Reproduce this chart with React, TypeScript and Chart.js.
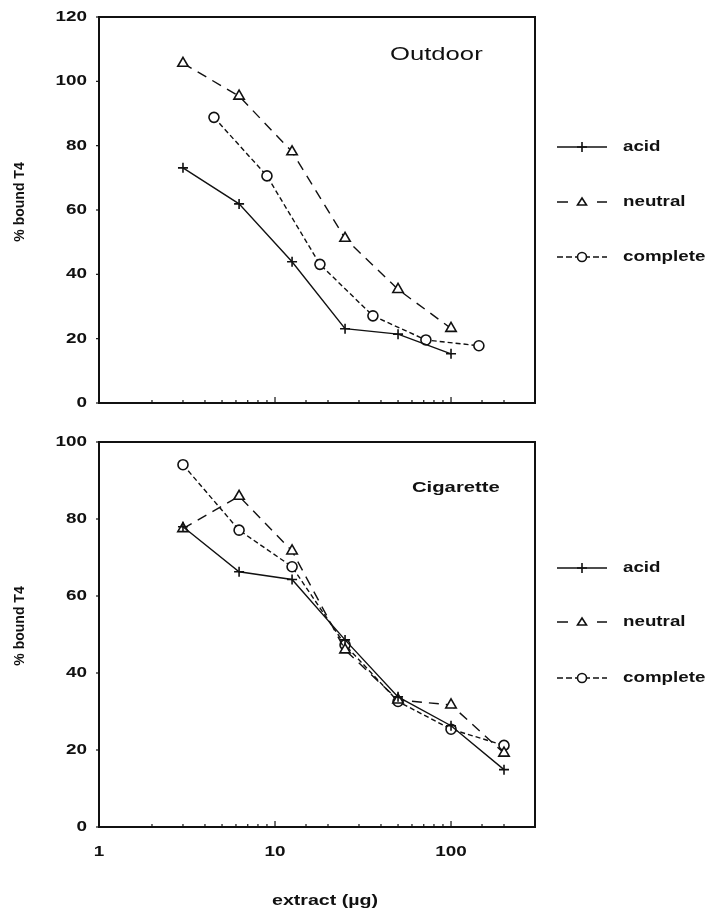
import React, { useEffect, useRef } from 'react';
import { Chart, registerables } from 'chart.js';

Chart.register(...registerables);

// Outdoor extract
const OUTDOOR_ACID_X = [3, 6.25, 12.5, 25, 50, 100];
const OUTDOOR_ACID_Y = [73.1, 61.9, 43.9, 23.1, 21.4, 15.3];
const OUTDOOR_NEUTRAL_X = [3, 6.25, 12.5, 25, 50, 100];
const OUTDOOR_NEUTRAL_Y = [105.6, 95.4, 78.1, 51.2, 35.3, 23.2];
const OUTDOOR_COMPLETE_X = [4.5, 9, 18, 36, 72, 144];
const OUTDOOR_COMPLETE_Y = [88.8, 70.6, 43.1, 27.1, 19.6, 17.8];

// Cigarette extract
const CIG_X = [3, 6.25, 12.5, 25, 50, 100, 200];
const CIG_ACID_Y = [78, 66.3, 64.3, 48.6, 33.8, 26.3, 14.9];
const CIG_NEUTRAL_Y = [77.5, 85.9, 71.7, 46, 33, 31.7, 19.2];
const CIG_COMPLETE_Y = [94.1, 77.1, 67.6, 47.3, 32.6, 25.4, 21.2];

const SERIES_NAMES = ['acid', 'neutral', 'complete'];
const PANEL_TITLES = ['Outdoor', 'Cigarette'];
const X_MIN = 1;
const X_MAX = 300;
const X_TICK_LABELS = ['1', '10', '100'];
const OUTDOOR_Y_MAX = 120;
const CIG_Y_MAX = 100;
const Y_STEP = 20;
const Y_TITLE = '% bound T4';
const X_TITLE = 'extract (\u00b5g)';

const INK = '#111';
const FONT = '"Liberation Sans", Arial, Helvetica, sans-serif';

type TextOpts = { size: number; weight?: string; align?: CanvasTextAlign; sx?: number; rotate?: boolean };

// Text in this figure is set wide, so it is drawn with a horizontal stretch.
function drawText(ctx: CanvasRenderingContext2D, text: string, x: number, y: number, o: TextOpts) {
  ctx.save();
  ctx.translate(x, y);
  if (o.rotate) {
    ctx.rotate(-Math.PI / 2);
    ctx.scale(1, o.sx ?? 1);
  } else {
    ctx.scale(o.sx ?? 1, 1);
  }
  ctx.font = `${o.weight ?? 'bold'} ${o.size}px ${FONT}`;
  ctx.fillStyle = INK;
  ctx.textAlign = o.align ?? 'left';
  ctx.textBaseline = 'middle';
  ctx.fillText(text, 0, 0);
  ctx.restore();
}

const STYLES = [
  { dash: [] as number[], point: 'cross', radius: 5, width: 1.4 },
  { dash: [10, 7], point: 'triangle', radius: 6, width: 1.4 },
  { dash: [5, 3], point: 'circle', radius: 5, width: 1.4 },
];

function makeDataset(i: number, xs: number[], ys: number[]) {
  const s = STYLES[i];
  return {
    label: SERIES_NAMES[i],
    data: xs.map((x, k) => ({ x, y: ys[k] })),
    borderColor: INK,
    borderWidth: s.width,
    borderDash: s.dash,
    tension: 0,
    fill: false,
    pointStyle: s.point,
    pointRadius: s.radius,
    pointBorderColor: INK,
    pointBackgroundColor: '#fff',
    pointBorderWidth: 1.6,
  };
}

function drawLegendMarker(ctx: CanvasRenderingContext2D, i: number, x: number, y: number) {
  ctx.save();
  ctx.strokeStyle = INK;
  ctx.fillStyle = '#fff';
  ctx.lineWidth = 1.6;
  ctx.setLineDash([]);
  ctx.beginPath();
  if (i === 0) {
    ctx.moveTo(x - 5, y); ctx.lineTo(x + 5, y);
    ctx.moveTo(x, y - 5); ctx.lineTo(x, y + 5);
    ctx.stroke();
  } else if (i === 1) {
    ctx.moveTo(x, y - 4); ctx.lineTo(x + 4.5, y + 3); ctx.lineTo(x - 4.5, y + 3); ctx.closePath();
    ctx.fill(); ctx.stroke();
  } else {
    ctx.arc(x, y, 4.5, 0, Math.PI * 2);
    ctx.fill(); ctx.stroke();
  }
  ctx.restore();
}

type PanelOpts = {
  title: string;
  titleX: number;
  titleY: number;
  titleSize: number;
  titleWeight: string;
  legendY: number[];
  yTitleY: number;
  showX: boolean;
};

function panelPlugin(p: PanelOpts) {
  return {
    id: 'panelDecor',
    afterDraw(chart: any) {
      const ctx: CanvasRenderingContext2D = chart.ctx;
      const a = chart.chartArea;
      const xs = chart.scales.x;
      const ys = chart.scales.y;
      ctx.save();
      // frame
      ctx.strokeStyle = INK;
      ctx.lineWidth = 2;
      ctx.strokeRect(a.left, a.top, a.right - a.left, a.bottom - a.top);
      // x ticks, drawn inward
      ctx.lineWidth = 1.2;
      for (const t of xs.ticks) {
        const v = t.value;
        if (v < X_MIN || v > X_MAX) continue;
        const px = xs.getPixelForValue(v);
        const major = Math.abs(Math.log10(v) - Math.round(Math.log10(v))) < 1e-9;
        const len = major ? 6 : 3;
        ctx.beginPath();
        ctx.moveTo(px, a.bottom);
        ctx.lineTo(px, a.bottom - len);
        ctx.stroke();
      }
      // y ticks and labels
      for (const t of ys.ticks) {
        const py = ys.getPixelForValue(t.value);
        ctx.beginPath();
        ctx.moveTo(a.left - 3, py);
        ctx.lineTo(a.left, py);
        ctx.stroke();
        drawText(ctx, String(t.value), a.left - 12, py, { size: 14, align: 'right', sx: 1.35 });
      }
      if (p.showX) {
        for (const lbl of X_TICK_LABELS) {
          const px = xs.getPixelForValue(Number(lbl));
          drawText(ctx, lbl, px, a.bottom + 25, { size: 14, align: 'center', sx: 1.35 });
        }
        drawText(ctx, X_TITLE, 325, a.bottom + 74, { size: 14, align: 'center', sx: 1.4 });
      }
      // y title
      drawText(ctx, Y_TITLE, 20, p.yTitleY, { size: 14, align: 'center', sx: 1.05, rotate: true });
      // panel title
      drawText(ctx, p.title, p.titleX, p.titleY, { size: p.titleSize, weight: p.titleWeight, align: 'left', sx: 1.35 });
      // legend
      for (let i = 0; i < SERIES_NAMES.length; i++) {
        const y = p.legendY[i];
        ctx.save();
        ctx.strokeStyle = INK;
        ctx.lineWidth = 1.4;
        if (i === 0) {
          ctx.beginPath(); ctx.moveTo(557, y); ctx.lineTo(607, y); ctx.stroke();
        } else if (i === 1) {
          ctx.beginPath();
          ctx.moveTo(557, y); ctx.lineTo(568, y);
          ctx.moveTo(597, y); ctx.lineTo(607, y);
          ctx.stroke();
        } else {
          ctx.setLineDash([6, 3]);
          ctx.beginPath(); ctx.moveTo(557, y); ctx.lineTo(607, y); ctx.stroke();
        }
        ctx.restore();
        drawLegendMarker(ctx, i, 582, y);
        drawText(ctx, SERIES_NAMES[i], 623, y, { size: 15, align: 'left', sx: 1.25 });
      }
      ctx.restore();
    },
  };
}

function makeConfig(datasets: any[], yMax: number, padTop: number, xHeight: number, p: PanelOpts) {
  return {
    type: 'line',
    data: { datasets },
    options: {
      responsive: false,
      animation: false,
      events: [],
      layout: { padding: { top: padTop, right: 171, left: 0, bottom: 0 } },
      plugins: { legend: { display: false }, tooltip: { enabled: false }, title: { display: false } },
      scales: {
        x: {
          type: 'logarithmic',
          min: X_MIN,
          max: X_MAX,
          grid: { display: false },
          border: { display: false },
          ticks: { display: false, autoSkip: false },
          afterFit: (s: any) => { s.height = xHeight; },
        },
        y: {
          type: 'linear',
          min: 0,
          max: yMax,
          grid: { display: false },
          border: { display: false },
          ticks: { display: false, stepSize: Y_STEP },
          afterFit: (s: any) => { s.width = 99; },
        },
      },
    },
    plugins: [panelPlugin(p)],
  };
}

function Panel(props: { config: any; width: number; height: number; top: number }) {
  const ref = useRef<HTMLCanvasElement>(null);
  useEffect(() => {
    const chart = new Chart(ref.current as HTMLCanvasElement, props.config);
    return () => chart.destroy();
  }, []);
  return (
    <canvas
      ref={ref}
      width={props.width}
      height={props.height}
      style={{ position: 'absolute', left: 0, top: props.top, width: props.width, height: props.height, display: 'block' }}
    />
  );
}

export default function App() {
  const outdoor = makeConfig(
    [
      makeDataset(0, OUTDOOR_ACID_X, OUTDOOR_ACID_Y),
      makeDataset(1, OUTDOOR_NEUTRAL_X, OUTDOOR_NEUTRAL_Y),
      makeDataset(2, OUTDOOR_COMPLETE_X, OUTDOOR_COMPLETE_Y),
    ],
    OUTDOOR_Y_MAX,
    17,
    17,
    { title: PANEL_TITLES[0], titleX: 390, titleY: 55, titleSize: 19, titleWeight: 'normal', legendY: [147, 202, 257], yTitleY: 202, showX: false }
  );
  const cigarette = makeConfig(
    [
      makeDataset(0, CIG_X, CIG_ACID_Y),
      makeDataset(1, CIG_X, CIG_NEUTRAL_Y),
      makeDataset(2, CIG_X, CIG_COMPLETE_Y),
    ],
    CIG_Y_MAX,
    22,
    82,
    { title: PANEL_TITLES[1], titleX: 412, titleY: 68, titleSize: 15, titleWeight: 'bold', legendY: [148, 202, 258], yTitleY: 206, showX: true }
  );
  return (
    <div style={{ position: 'absolute', left: 0, top: 0, width: 706, height: 909, background: '#fff' }}>
      <Panel config={outdoor} width={706} height={420} top={0} />
      <Panel config={cigarette} width={706} height={489} top={420} />
    </div>
  );
}
